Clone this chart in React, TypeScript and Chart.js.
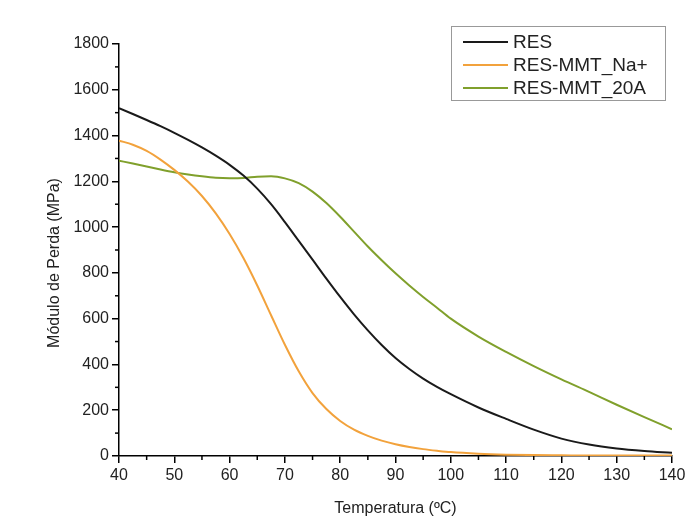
import React, { useEffect, useRef } from "react";
import { Chart, registerables } from "chart.js";

Chart.register(...registerables);

const temperatures = [40, 42.5, 45, 47.5, 50, 52.5, 55, 57.5, 60, 62.5, 65, 67.5, 70, 72.5, 75, 77.5, 80, 82.5, 85, 87.5, 90, 92.5, 95, 97.5, 100, 105, 110, 115, 120, 125, 130, 135, 140];

const resValues = [1520, 1494, 1468, 1441, 1412, 1381, 1348, 1312, 1272, 1225, 1168, 1100, 1022, 940, 858, 775, 695, 619, 549, 485, 428, 380, 338, 302, 270, 212, 162, 115, 76, 50, 33, 22, 14];

const naValues = [1378, 1360, 1333, 1295, 1250, 1198, 1136, 1060, 970, 865, 745, 615, 486, 370, 275, 205, 153, 115, 88, 67, 51, 39, 30, 23, 17, 10, 6, 4, 3, 2, 2, 2, 2];

const a20Values = [1290, 1278, 1265, 1252, 1240, 1230, 1222, 1216, 1214, 1215, 1220, 1222, 1213, 1192, 1155, 1105, 1045, 980, 915, 855, 798, 745, 695, 648, 600, 522, 455, 393, 335, 280, 224, 170, 117];

const seriesLabels = ["RES", "RES-MMT_Na+", "RES-MMT_20A"];
const seriesColors = ["#1a1a1a", "#f2a23c", "#80a02c"];

const xTitle = "Temperatura (ºC)";
const yTitle = "Módulo de Perda (MPa)";

const FONT = "'Liberation Sans', Arial, sans-serif";

const minorTicksPlugin = {
  id: "minorTicks",
  afterDraw(chart: any) {
    const { ctx, scales } = chart;
    const xs = scales.x;
    const ys = scales.y;
    ctx.save();
    ctx.strokeStyle = "#000";
    ctx.lineWidth = 1.5;
    for (let v = 45; v < 140; v += 10) {
      const px = xs.getPixelForValue(v);
      ctx.beginPath();
      ctx.moveTo(px, ys.bottom);
      ctx.lineTo(px, ys.bottom + 4);
      ctx.stroke();
    }
    for (let v = 100; v < 1800; v += 200) {
      const py = ys.getPixelForValue(v);
      ctx.beginPath();
      ctx.moveTo(xs.left - 4, py);
      ctx.lineTo(xs.left, py);
      ctx.stroke();
    }
    ctx.restore();
  },
};

const titlesPlugin = {
  id: "axisTitles",
  afterDraw(chart: any) {
    const { ctx, chartArea } = chart;
    ctx.save();
    ctx.fillStyle = "#222";
    ctx.font = `16px ${FONT}`;
    ctx.textAlign = "center";
    ctx.textBaseline = "middle";
    ctx.fillText(xTitle, (chartArea.left + chartArea.right) / 2, 509);
    ctx.translate(55, 263);
    ctx.rotate(-Math.PI / 2);
    ctx.fillText(yTitle, 0, 0);
    ctx.restore();
  },
};

const legendPlugin = {
  id: "boxLegend",
  afterDraw(chart: any) {
    const { ctx } = chart;
    ctx.save();
    ctx.fillStyle = "#fff";
    ctx.fillRect(451, 26, 214, 74);
    ctx.strokeStyle = "#999";
    ctx.lineWidth = 1;
    ctx.strokeRect(451.5, 26.5, 214, 74);
    ctx.font = `19px ${FONT}`;
    ctx.textAlign = "left";
    ctx.textBaseline = "middle";
    chart.data.datasets.forEach((ds: any, i: number) => {
      const y = 42 + i * 23;
      ctx.strokeStyle = ds.borderColor;
      ctx.lineWidth = 2;
      ctx.beginPath();
      ctx.moveTo(463, y);
      ctx.lineTo(508, y);
      ctx.stroke();
      ctx.fillStyle = "#222";
      ctx.fillText(ds.label, 513, y + 1);
    });
    ctx.restore();
  },
};

export default function App() {
  const canvasRef = useRef<HTMLCanvasElement | null>(null);

  useEffect(() => {
    document.body.style.margin = "0";
    const canvas = canvasRef.current;
    if (!canvas) return;
    const seriesValues = [resValues, naValues, a20Values];
    const chart = new Chart(canvas, {
      type: "line",
      data: {
        datasets: seriesValues.map((vals, i) => ({
          label: seriesLabels[i],
          data: temperatures.map((t, j) => ({ x: t, y: vals[j] })),
          borderColor: seriesColors[i],
          backgroundColor: seriesColors[i],
          borderWidth: 2,
          pointRadius: 0,
          cubicInterpolationMode: "monotone" as const,
          fill: false,
        })),
      },
      options: {
        responsive: false,
        animation: false,
        layout: { padding: { top: 44, right: 27, left: 0, bottom: 0 } },
        plugins: {
          legend: { display: false },
          tooltip: { enabled: false },
        },
        scales: {
          x: {
            type: "linear",
            min: 40,
            max: 140,
            ticks: {
              stepSize: 10,
              color: "#222",
              font: { family: FONT, size: 16 },
              padding: 3,
              maxRotation: 0,
              callback: (v: any) => String(v),
            },
            grid: {
              display: true,
              drawOnChartArea: false,
              drawTicks: true,
              tickLength: 7,
              color: "#000",
              lineWidth: 1.5,
            },
            border: { display: true, color: "#000", width: 1.5 },
            afterFit: (scale: any) => {
              scale.height = 69;
            },
          },
          y: {
            type: "linear",
            min: 0,
            max: 1800,
            ticks: {
              stepSize: 200,
              color: "#222",
              font: { family: FONT, size: 16 },
              padding: 3,
              callback: (v: any) => String(v),
            },
            grid: {
              display: true,
              drawOnChartArea: false,
              drawTicks: true,
              tickLength: 7,
              color: "#000",
              lineWidth: 1.5,
            },
            border: { display: true, color: "#000", width: 1.5 },
            afterFit: (scale: any) => {
              scale.width = 119;
            },
          },
        },
      },
      plugins: [minorTicksPlugin, titlesPlugin, legendPlugin],
    });
    return () => chart.destroy();
  }, []);

  return (
    <div style={{ width: 699, height: 525, background: "#fff" }}>
      <canvas ref={canvasRef} width={699} height={525} style={{ display: "block" }} />
    </div>
  );
}
